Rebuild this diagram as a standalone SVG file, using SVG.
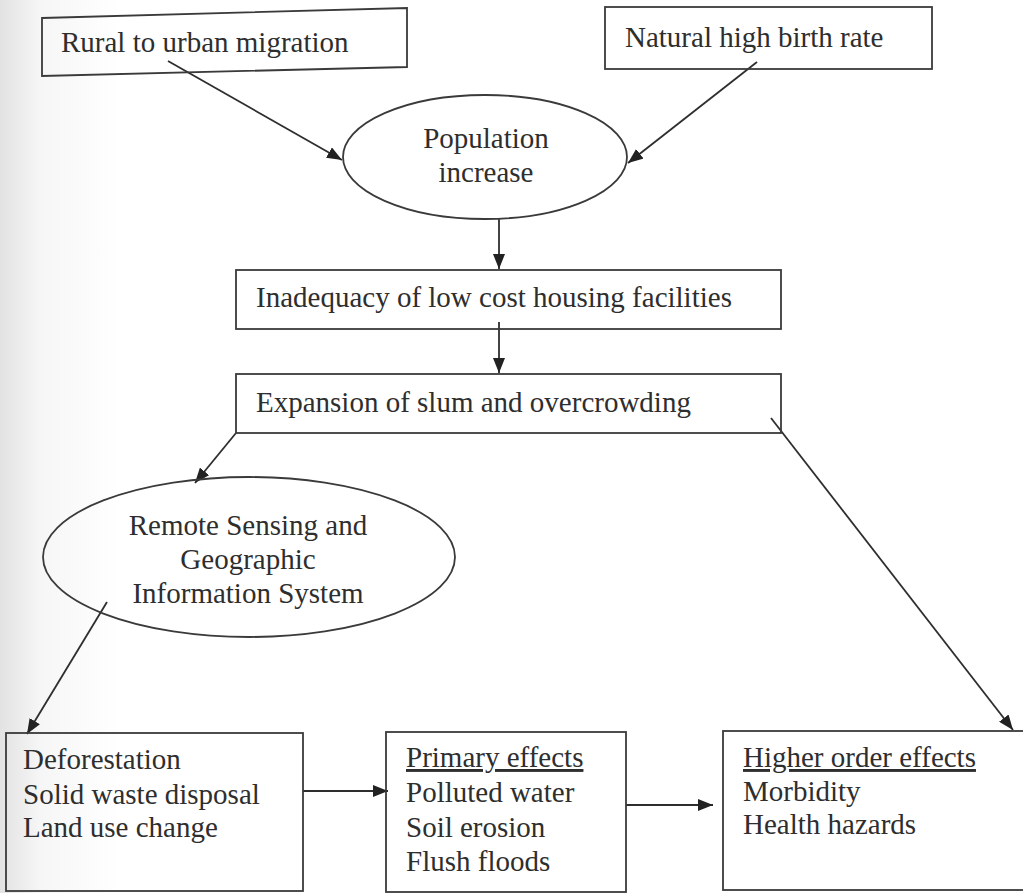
<svg xmlns="http://www.w3.org/2000/svg" width="1023" height="893" viewBox="0 0 1023 893">
<style>
.box{fill:none;stroke:#3a3a3a;stroke-width:1.8}
.t{font-family:"Liberation Serif","Times New Roman",serif;font-size:29px;fill:#2e2e2e}
.c{text-anchor:middle}
.u{text-decoration:underline}
.edge{stroke:#2e2e2e;stroke-width:1.8;fill:none;marker-end:url(#ah)}
</style>
<defs>
<marker id="ah" viewBox="0 0 15 12" refX="15" refY="6" markerWidth="15" markerHeight="12" markerUnits="userSpaceOnUse" orient="auto">
<path d="M0,0 L15,6 L0,12 z" fill="#222"/>
</marker>
<linearGradient id="bg" x1="0" y1="0" x2="1" y2="0">
<stop offset="0" stop-color="#e2e2e2"/>
<stop offset="0.1" stop-color="#f6f6f6"/>
<stop offset="0.3" stop-color="#ffffff"/>
</linearGradient>
</defs>
<rect x="0" y="0" width="1023" height="893" fill="#ffffff"/>
<rect x="0" y="0" width="400" height="893" fill="url(#bg)"/>

<g id="connectors">
<line class="edge" x1="168" y1="61" x2="342" y2="160"/>
<line class="edge" x1="757" y1="62" x2="628" y2="163"/>
<line class="edge" x1="499" y1="219" x2="499" y2="269"/>
<line class="edge" x1="499" y1="322" x2="499" y2="373"/>
<line class="edge" x1="236" y1="433" x2="195" y2="483"/>
<line class="edge" x1="771" y1="418" x2="1013" y2="730"/>
<line class="edge" x1="107" y1="602" x2="27" y2="734"/>
<line class="edge" x1="303" y1="791" x2="388" y2="791"/>
<line class="edge" x1="626" y1="805" x2="713" y2="805"/>
</g>

<g id="rural">
<polygon class="box" points="42,18 407,8 407,67 42,76"/>
<text class="t" x="61" y="52">Rural to urban migration</text>
</g>

<g id="natural">
<rect class="box" x="605" y="7" width="327" height="62"/>
<text class="t" x="625" y="47">Natural high birth rate</text>
</g>

<g id="population">
<ellipse class="box" cx="485" cy="157" rx="142" ry="62"/>
<text class="t c" x="486" y="148">Population</text>
<text class="t c" x="486" y="182">increase</text>
</g>

<g id="inadequacy">
<rect class="box" x="236" y="270" width="545" height="59"/>
<text class="t" x="256" y="307">Inadequacy of low cost housing facilities</text>
</g>

<g id="expansion">
<rect class="box" x="236" y="374" width="545" height="59"/>
<text class="t" x="256" y="412">Expansion of slum and overcrowding</text>
</g>

<g id="rsgis">
<ellipse class="box" cx="249" cy="557" rx="206" ry="80"/>
<text class="t c" x="248" y="535">Remote Sensing and</text>
<text class="t c" x="248" y="569">Geographic</text>
<text class="t c" x="248" y="603">Information System</text>
</g>

<g id="causes">
<rect class="box" x="6" y="733" width="297" height="158"/>
<text class="t" x="23" y="769">Deforestation</text>
<text class="t" x="23" y="804">Solid waste disposal</text>
<text class="t" x="23" y="837">Land use change</text>
</g>

<g id="primary">
<rect class="box" x="386" y="732" width="240" height="160"/>
<text class="t u" x="406" y="767">Primary effects</text>
<text class="t" x="406" y="802">Polluted water</text>
<text class="t" x="406" y="837">Soil erosion</text>
<text class="t" x="406" y="871">Flush floods</text>
</g>

<g id="higher">
<rect class="box" x="723" y="731" width="310" height="159"/>
<text class="t u" x="743" y="767">Higher order effects</text>
<text class="t" x="743" y="801">Morbidity</text>
<text class="t" x="743" y="834">Health hazards</text>
</g>
</svg>
